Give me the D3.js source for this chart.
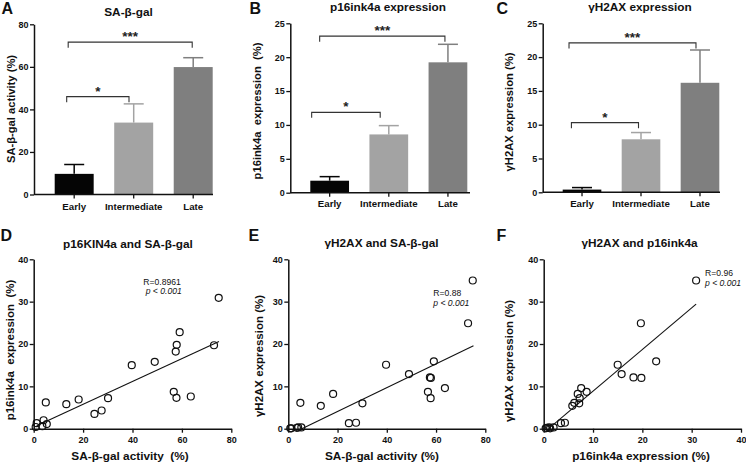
<!DOCTYPE html>
<html><head><meta charset="utf-8">
<script src="https://cdn.jsdelivr.net/npm/d3@7"></script>
<style>
body{margin:0;background:#fff;}
svg{display:block;font-family:"Liberation Sans",Arial,Helvetica,sans-serif;}
</style></head><body>
<svg id="c" width="746" height="465"></svg>
<script>
// ---------- DATA ----------
const categories = ["Early", "Intermediate", "Late"];
const saGalMean = [9.7, 33.8, 59.9];
const saGalErr  = [4.4, 8.8, 4.4];
const p16Mean   = [1.77, 8.6, 19.24];
const p16Err    = [0.6, 1.3, 2.66];
const h2axMean  = [0.4, 7.84, 16.2];
const h2axErr   = [0.3, 1.0, 4.85];

const barTicks80 = [0, 20, 40, 60, 80];
const barTicks25 = [0, 5, 10, 15, 20, 25];
const scatTicks80 = [0, 20, 40, 60, 80];
const scatTicks40 = [0, 10, 20, 30, 40];

// significance brackets: [from, to, y value, label]
const bracketsA = [["Early", "Late", 71.6, "***"], ["Early", "Intermediate", 46.0, "*"]];
const bracketsB = [["Early", "Late", 23.1, "***"], ["Early", "Intermediate", 11.86, "*"]];
const bracketsC = [["Early", "Late", 22.1, "***"], ["Early", "Intermediate", 10.3, "*"]];

// per-subject values (same subjects in D, E, F)
const saGal = [74.9, 73.0, 59.1, 57.9, 57.5, 49.0, 39.7, 56.7, 57.8, 63.6, 30.1, 27.5, 24.6, 18.2, 13.2, 4.9, 4.0, 5.3, 1.2, 3.5, 0.8];
const p16   = [30.9, 19.7, 22.8, 19.8, 18.2, 15.8, 15.0, 8.7, 7.3, 7.6, 7.2, 4.3, 3.5, 6.9, 5.8, 6.2, 2.0, 1.1, 1.3, 0.6, 0.4];
const h2ax  = [35.0, 24.9, 15.9, 12.0, 12.1, 12.9, 15.1, 8.7, 7.2, 9.6, 6.0, 1.4, 1.3, 8.2, 5.4, 6.1, 0.3, 0.3, 0.1, 0.2, 0.1];

// regression line endpoints
const fitD = [[1.2, 0.7], [75, 20.6]];
const fitE = [[5.5, 0], [75.2, 19.6]];
const fitF = [[1.0, 0], [30.9, 29.4]];

// ---------- STYLE ----------
const barColors = ["#050505", "#a3a3a3", "#7f7f7f"];
const ink = "#111";
const svg = d3.select("#c");

function styleAxis(g, fs) {
  g.select(".domain").attr("stroke", ink).attr("stroke-width", 1.5);
  g.selectAll(".tick line").attr("stroke", ink).attr("stroke-width", 1.3);
  g.selectAll(".tick text").attr("fill", ink).attr("font-size", fs).attr("font-weight", "bold")
    .attr("font-family", '"Liberation Sans",Arial,sans-serif');
}

function barPanel(cfg) {
  const g = svg.append("g");
  const y = d3.scaleLinear().domain(cfg.yDomain).range([cfg.y0, cfg.y1]);
  const x = d3.scaleBand().domain(categories).range([cfg.bandL, cfg.bandR]).paddingInner(0.345).paddingOuter(0);
  const cx = d => x(d) + x.bandwidth() / 2;

  categories.forEach((c, i) => {
    const top = y(cfg.mean[i] + cfg.err[i]);
    g.append("line").attr("x1", cx(c)).attr("x2", cx(c)).attr("y1", y(cfg.mean[i])).attr("y2", top)
      .attr("stroke", barColors[i]).attr("stroke-width", 1.5);
    g.append("line").attr("x1", cx(c) - 10).attr("x2", cx(c) + 10).attr("y1", top).attr("y2", top)
      .attr("stroke", barColors[i]).attr("stroke-width", 1.5);
  });
  g.selectAll("rect.bar").data(categories).join("rect").attr("class", "bar")
    .attr("x", d => x(d)).attr("width", x.bandwidth())
    .attr("y", (d, i) => y(cfg.mean[i])).attr("height", (d, i) => y(0) - y(cfg.mean[i]))
    .attr("fill", (d, i) => barColors[i]);

  const ya = g.append("g").attr("transform", `translate(${cfg.axisX},0)`)
    .call(d3.axisLeft(y).tickValues(cfg.ticks).tickSize(4).tickSizeOuter(0).tickPadding(1.5));
  styleAxis(ya, 9);
  g.append("line").attr("x1", cfg.axisX).attr("x2", cfg.axisEnd).attr("y1", y(0)).attr("y2", y(0))
    .attr("stroke", ink).attr("stroke-width", 1.5);
  categories.forEach(c => {
    g.append("line").attr("x1", cx(c)).attr("x2", cx(c)).attr("y1", y(0)).attr("y2", y(0) + 4)
      .attr("stroke", ink).attr("stroke-width", 1.3);
    g.append("text").attr("x", cx(c)).attr("y", y(0) + cfg.catDy).attr("text-anchor", "middle")
      .attr("font-size", 9.7).attr("font-weight", "bold").attr("fill", ink).text(c);
  });

  cfg.brackets.forEach((b, k) => {
    const off = cfg.brOff[k];
    const xl = cx(b[0]) + off[0], xr = cx(b[1]) + off[1], yy = y(b[2]);
    g.append("path").attr("d", `M${xl},${yy + 5.5}V${yy}H${xr}V${yy + 5.5}`)
      .attr("fill", "none").attr("stroke", "#333").attr("stroke-width", 1.1);
    g.append("text").attr("x", (xl + xr) / 2).attr("y", yy - 1).attr("text-anchor", "middle")
      .attr("font-size", 13.5).attr("font-weight", "bold").attr("fill", "#222").text(b[3]);
  });

  g.append("text").attr("x", cfg.titleX).attr("y", cfg.titleY).attr("text-anchor", "middle")
    .attr("font-size", 11.8).attr("font-weight", "bold").attr("fill", ink).text(cfg.title);
  g.append("text").attr("x", cfg.letterX).attr("y", 13.5).attr("font-size", 16).attr("font-weight", "bold")
    .attr("fill", ink).text(cfg.letter);
  g.append("text").attr("transform", `translate(${cfg.ylabX},${cfg.ylabY}) rotate(-90)`)
    .attr("text-anchor", "middle").attr("dominant-baseline", "central")
    .attr("font-size", 11.2).attr("font-weight", "bold").attr("fill", ink)
    .style("white-space", "pre").text(cfg.ylab);
}

barPanel({letter: "A", letterX: 1.5, title: "SA-β-gal", titleX: 128.5, titleY: 15.5,
  ylab: "SA-β-gal activity (%)", ylabX: 10.5, ylabY: 109,
  mean: saGalMean, err: saGalErr, yDomain: [0, 80], ticks: barTicks80, y0: 194.5, y1: 24.3,
  axisX: 34, axisEnd: 213, bandL: 54.7, bandR: 212.7, catDy: 15,
  brackets: bracketsA, brOff: [[-6, -1], [-7.5, -4.7]]});

barPanel({letter: "B", letterX: 249.5, title: "p16ink4a expression", titleX: 388, titleY: 10.5,
  ylab: "p16ink4a  expression  (%)", ylabX: 257, ylabY: 111,
  mean: p16Mean, err: p16Err, yDomain: [0, 25], ticks: barTicks25, y0: 192.7, y1: 23.3,
  axisX: 290.3, axisEnd: 470, bandL: 310.3, bandR: 467.3, catDy: 14.5,
  brackets: bracketsB, brOff: [[-10, -3], [-18, -8.6]]});

barPanel({letter: "C", letterX: 496.5, title: "γH2AX expression", titleX: 640, titleY: 10.5,
  ylab: "γH2AX expression (%)", ylabX: 508.5, ylabY: 112,
  mean: h2axMean, err: h2axErr, yDomain: [0, 25], ticks: barTicks25, y0: 192.3, y1: 23.3,
  axisX: 542.7, axisEnd: 720, bandL: 562.7, bandR: 719.3, catDy: 14.5,
  brackets: bracketsC, brOff: [[-13, -4], [-10.6, -2.5]]});

function scatterPanel(cfg) {
  const g = svg.append("g");
  const x = d3.scaleLinear().domain(cfg.xDomain).range([cfg.x0, cfg.x1]);
  const y = d3.scaleLinear().domain([0, 40]).range([428.7, 259.3]);

  const xa = g.append("g").attr("transform", `translate(0,${y(0)})`)
    .call(d3.axisBottom(x).tickValues(cfg.xTicks).tickSize(4).tickSizeOuter(0).tickPadding(4.3));
  styleAxis(xa, 9);
  const ya = g.append("g").attr("transform", `translate(${x(0)},0)`)
    .call(d3.axisLeft(y).tickValues(scatTicks40).tickSize(4).tickSizeOuter(0).tickPadding(1.5));
  styleAxis(ya, 9);

  g.append("line").attr("x1", x(cfg.fit[0][0])).attr("y1", y(cfg.fit[0][1]))
    .attr("x2", x(cfg.fit[1][0])).attr("y2", y(cfg.fit[1][1]))
    .attr("stroke", ink).attr("stroke-width", 1.1);

  g.selectAll("circle").data(cfg.xs.map((v, i) => [v, cfg.ys[i]])).join("circle")
    .attr("cx", d => x(d[0])).attr("cy", d => y(d[1])).attr("r", 3.5)
    .attr("fill", "none").attr("stroke", ink).attr("stroke-width", 1.2);

  g.append("text").attr("x", cfg.annX).attr("y", cfg.annY).attr("font-size", 8.6).attr("fill", ink).text(cfg.rText);
  g.append("text").attr("x", cfg.annX + cfg.pDx).attr("y", cfg.annY + 9.6).attr("font-size", 8.6)
    .attr("font-style", "italic").attr("fill", ink).text("p < 0.001");

  g.append("text").attr("x", cfg.titleX).attr("y", cfg.titleY).attr("text-anchor", "middle")
    .attr("font-size", 11.8).attr("font-weight", "bold").attr("fill", ink).text(cfg.title);
  g.append("text").attr("x", cfg.letterX).attr("y", 240.5).attr("font-size", 16).attr("font-weight", "bold")
    .attr("fill", ink).text(cfg.letter);
  g.append("text").attr("x", cfg.xlabX).attr("y", 460).attr("text-anchor", "middle")
    .attr("font-size", 11.8).attr("font-weight", "bold").attr("fill", ink)
    .style("white-space", "pre").text(cfg.xlab);
  g.append("text").attr("transform", `translate(${cfg.ylabX},${cfg.ylabY}) rotate(-90)`)
    .attr("text-anchor", "middle").attr("dominant-baseline", "central")
    .attr("font-size", 11.5).attr("font-weight", "bold").attr("fill", ink)
    .style("white-space", "pre").text(cfg.ylab);
}

scatterPanel({letter: "D", letterX: 0.5, title: "p16KIN4a and SA-β-gal", titleX: 128, titleY: 248,
  xlab: "SA-β-gal activity  (%)", xlabX: 130, ylab: "p16ink4a  expression  (%)", ylabX: 10, ylabY: 350,
  xs: saGal, ys: p16, xDomain: [0, 80], xTicks: scatTicks80, x0: 33.7, x1: 231.3, fit: fitD,
  rText: "R=0.8961", annX: 143.3, annY: 284.7, pDx: 2.4});

scatterPanel({letter: "E", letterX: 248.5, title: "γH2AX and SA-β-gal", titleX: 381.5, titleY: 246.5,
  xlab: "SA-β-gal activity (%)", xlabX: 382, ylab: "γH2AX expression (%)", ylabX: 258.5, ylabY: 356,
  xs: saGal, ys: h2ax, xDomain: [0, 80], xTicks: scatTicks80, x0: 288.3, x1: 485.3, fit: fitE,
  rText: "R=0.88", annX: 433.3, annY: 296.3, pDx: 0});

scatterPanel({letter: "F", letterX: 496.5, title: "γH2AX and p16ink4a", titleX: 639.5, titleY: 246.5,
  xlab: "p16ink4a expression (%)", xlabX: 641, ylab: "γH2AX expression (%)", ylabX: 508.5, ylabY: 361,
  xs: p16, ys: h2ax, xDomain: [0, 40], xTicks: scatTicks40, x0: 543.7, x1: 741, fit: fitF,
  rText: "R=0.96", annX: 705, annY: 276.3, pDx: 0});
</script>
</body></html>
